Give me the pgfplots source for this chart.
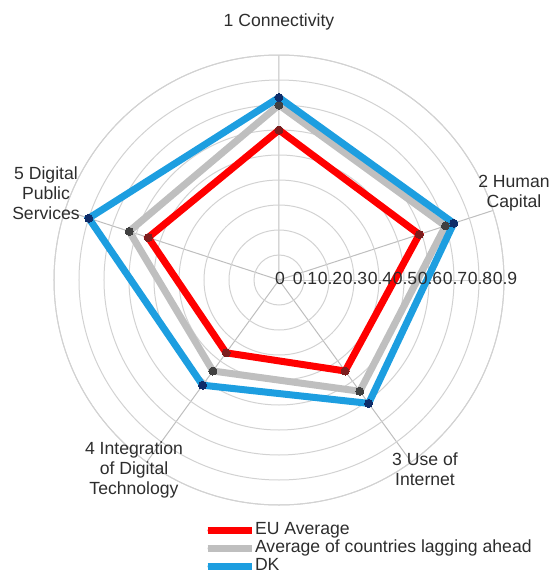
\documentclass[border=0pt]{standalone}
\usepackage{pgfplots}
\pgfplotsset{compat=1.18}
\usepgfplotslibrary{polar}
\usepackage{fontspec}
\setmainfont{Liberation Sans}

\definecolor{eured}{RGB}{255,0,0}
\definecolor{euredm}{RGB}{125,30,30}
\definecolor{laggray}{RGB}{191,191,191}
\definecolor{laggraym}{RGB}{64,64,64}
\definecolor{dkblue}{RGB}{29,158,224}
\definecolor{dkbluem}{RGB}{15,45,105}
\definecolor{gridc}{RGB}{210,210,210}
\definecolor{spokec}{RGB}{190,190,190}
\definecolor{txt}{RGB}{45,45,45}

\begin{document}
\begin{tikzpicture}[font=\fontsize{17.6pt}{20pt}\selectfont, text=txt]
\path[use as bounding box] (-279pt,-293pt) rectangle (273pt,280pt);
\begin{polaraxis}[
  at={(0pt,0pt)}, anchor=center,
  width=450pt, height=450pt, scale only axis,
  xmin=0, xmax=360, ymin=0, ymax=0.9,
  xtick={18,90,162,234,306},
  ytick={0.1,0.2,0.3,0.4,0.5,0.6,0.7,0.8,0.9},
  xticklabels={}, yticklabels={},
  major tick length=0pt,
  xmajorgrids, ymajorgrids,
  x grid style={spokec, line width=1pt},
  y grid style={gridc, line width=1pt},
  axis line style={gridc, line width=1pt},
  legend style={at={(0.333,-0.037)}, anchor=north west, draw=none, fill=none,
    inner sep=0pt, row sep=1.5pt,
    nodes={inner ysep=0pt, inner xsep=0pt, text height=12.5pt, text depth=4pt, text=txt}},
  legend cell align=left,
  legend image code/.code={\draw[#1, mark=none, line width=7pt, line cap=round] (3.5pt,0pt) -- (37pt,0pt);
    \path (0pt,0pt) -- (44pt,0pt);},
]
\addplot[eured, line width=7pt, mark=*, mark size=4pt, mark options={fill=euredm, draw=euredm, line width=0pt}]
  coordinates {(90,0.60) (18,0.59) (-54,0.45) (-126,0.36) (162,0.55) (90,0.60)};
\addlegendentry{EU Average}
\addplot[laggray, line width=7pt, mark=*, mark size=4pt, mark options={fill=laggraym, draw=laggraym, line width=0pt}]
  coordinates {(90,0.70) (18,0.70) (-54,0.55) (-126,0.45) (162,0.63) (90,0.70)};
\addlegendentry{Average of countries lagging ahead}
\addplot[dkblue, line width=7pt, mark=*, mark size=4pt, mark options={fill=dkbluem, draw=dkbluem, line width=0pt}]
  coordinates {(90,0.73) (18,0.735) (-54,0.61) (-126,0.52) (162,0.80) (90,0.73)};
\addlegendentry{DK}
\end{polaraxis}
% category labels
\node[align=center] at (0pt,258pt) {1 Connectivity};
\node[align=center] at (235pt,87pt) {2 Human\\Capital};
\node[align=center] at (-233pt,87pt) {5 Digital\\Public\\Services};
\node[align=center] at (-145pt,-190pt) {4 Integration\\of Digital\\Technology};
\node[align=center] at (146pt,-189pt) {3 Use of\\Internet};
% radial tick labels
\foreach \v/\t in {0/0,1/0.1,2/0.2,3/0.3,4/0.4,5/0.5,6/0.6,7/0.7,8/0.8,9/0.9}
  \node[inner sep=0pt] at (25pt*\v+1pt,2pt) {\t};
\end{tikzpicture}
\end{document}
